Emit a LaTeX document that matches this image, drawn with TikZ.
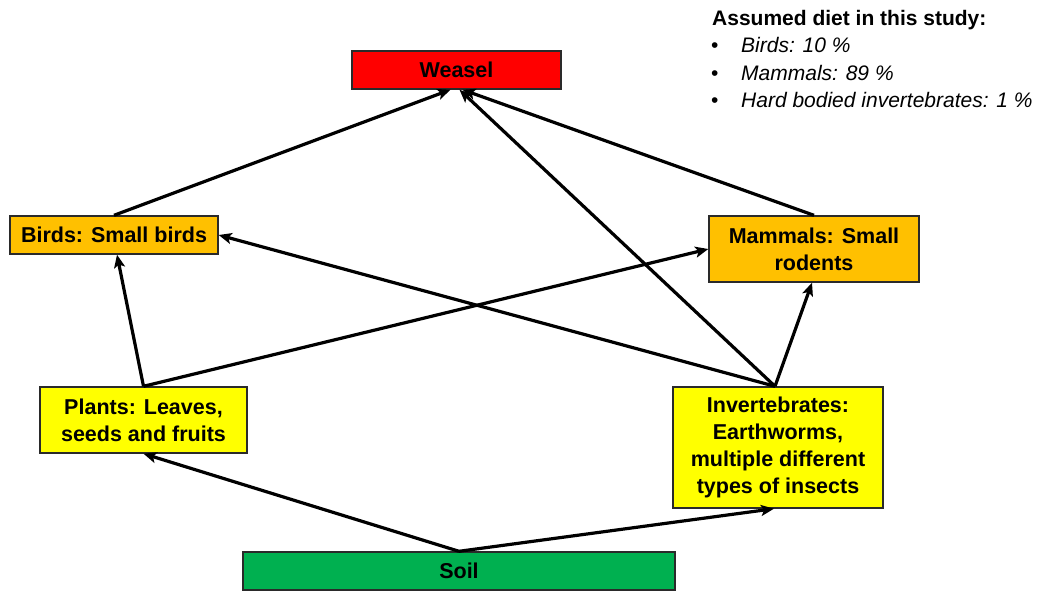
\documentclass[tikz,border=0pt]{standalone}
\usepackage{fontspec}
\setmainfont{Liberation Sans}
\usetikzlibrary{arrows.meta,calc}
\definecolor{weaselred}{HTML}{FF0000}
\definecolor{preyorange}{HTML}{FFC000}
\definecolor{baseyellow}{HTML}{FFFF00}
\definecolor{soilgreen}{HTML}{00B050}
\definecolor{edgegray}{HTML}{2A2A2A}
\begin{document}
\begin{tikzpicture}[x=1pt,y=-1pt,
  box/.style={draw=edgegray,line width=1.4pt,inner sep=0pt,align=center,
    font=\fontsize{21.5}{27}\selectfont\bfseries},
  feed/.style={line width=3.2pt,draw=black,
    -{Stealth[length=13pt,width=11pt,inset=3pt]}},
  legend/.style={anchor=base west,inner sep=0pt,font=\fontsize{21}{27}\selectfont},
]
\useasboundingbox (0,0) rectangle (1057,592);

% trophic levels
\node[box,fill=weaselred,minimum width=209pt,minimum height=38pt] (weasel) at (456.5,70) {Weasel};
\node[box,fill=preyorange,minimum width=208pt,minimum height=38pt] (birds) at (114,235) {Birds: Small birds};
\node[box,fill=preyorange,minimum width=210pt,minimum height=66pt] (mammals) at (814,249) {Mammals: Small\\rodents};
\node[box,fill=baseyellow,minimum width=207pt,minimum height=66pt] (plants) at (143.5,420) {Plants: Leaves,\\seeds and fruits};
\node[box,fill=baseyellow,minimum width=210pt,minimum height=121pt] (inverts) at (778,447.5) {Invertebrates:\\Earthworms,\\multiple different\\types of insects};
\node[box,fill=soilgreen,minimum width=432pt,minimum height=38pt] (soil) at (459,571) {Soil};

% feeding links
\draw[feed] (soil.north) -- (plants.south);
\draw[feed] (soil.north) -- ($(inverts.south)+(-4,0)$);
\draw[feed] (plants.north) -- ($(birds.south)+(3,0)$);
\draw[feed] (plants.north) -- (mammals.west);
\draw[feed] ($(inverts.north)+(-3,0)$) -- (birds.east);
\draw[feed] ($(inverts.north)+(-3,0)$) -- ($(mammals.south)+(-2,0)$);
\draw[feed] ($(inverts.north)+(-3,0)$) -- ($(weasel.south)+(3,0)$);
\draw[feed] (birds.north) -- ($(weasel.south)+(-6,0)$);
\draw[feed] (mammals.north) -- ($(weasel.south)+(6,0)$);

% diet legend
\node[legend,font=\fontsize{21}{27}\selectfont\bfseries] (dietTitle) at (712,25) {Assumed diet in this study:};
\node[legend] (b1) at (711,52) {•};
\node[legend] (b2) at (711,80) {•};
\node[legend] (b3) at (711,107) {•};
\node[legend] (d1) at (741,52) {\itshape Birds: 10 \%};
\node[legend] (d2) at (741,80) {\itshape Mammals: 89 \%};
\node[legend] (d3) at (741,107) {\itshape Hard bodied invertebrates: 1 \%};
\end{tikzpicture}
\end{document}
